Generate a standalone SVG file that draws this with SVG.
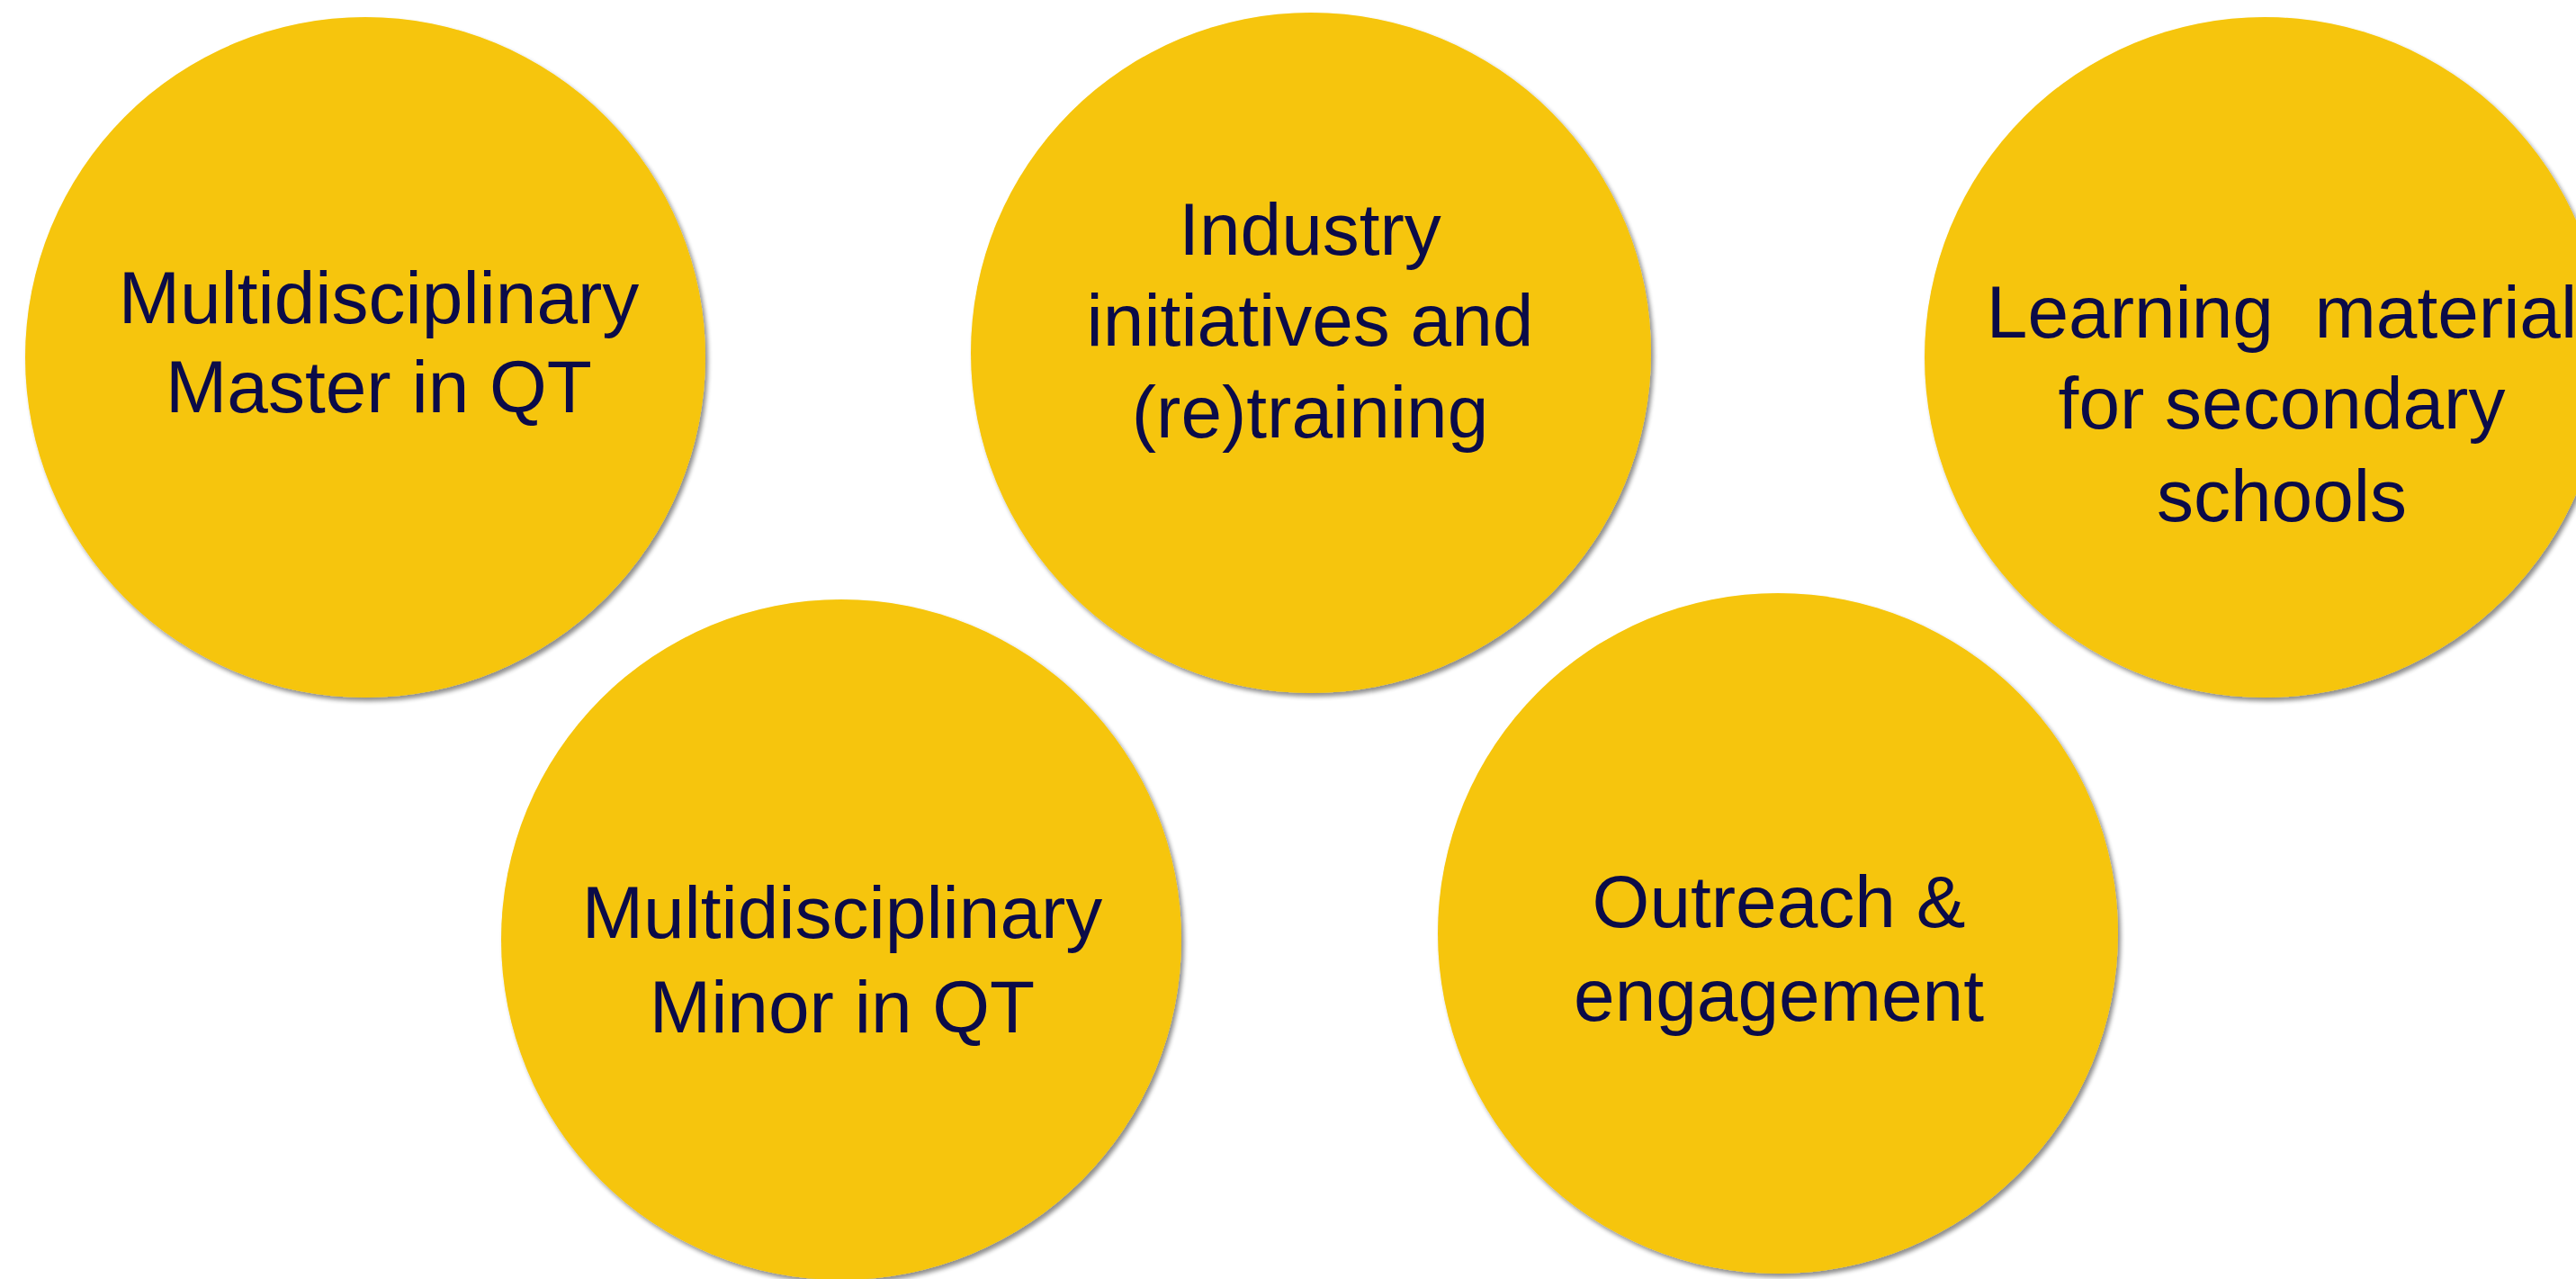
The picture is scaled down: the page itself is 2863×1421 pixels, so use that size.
<svg xmlns="http://www.w3.org/2000/svg" width="2863" height="1421" viewBox="0 0 2863 1421">
<defs>
<filter id="sh" x="-10%" y="-10%" width="120%" height="120%">
<feGaussianBlur in="SourceAlpha" stdDeviation="2.5"/>
<feOffset dx="3" dy="4" result="o"/>
<feComponentTransfer><feFuncA type="linear" slope="0.45"/></feComponentTransfer>
<feMerge><feMergeNode/><feMergeNode in="SourceGraphic"/></feMerge>
</filter>
</defs>
<style>
.c{fill:#F6C508;filter:url(#sh)}
.t{font-family:"Liberation Sans",Arial,sans-serif;font-size:82px;fill:#0B0B48;text-anchor:middle}
</style>
<rect width="2863" height="1421" fill="#FFFFFF"/>
<g id="connectors"/>
<g id="node-master">
<circle class="c" cx="406" cy="397" r="378"/>
<text class="t" x="421" y="359">Multidisciplinary</text>
<text class="t" x="421" y="458">Master in QT</text>
</g>
<g id="node-industry">
<circle class="c" cx="1457" cy="392" r="378"/>
<text class="t" x="1456" y="283">Industry</text>
<text class="t" x="1456" y="384">initiatives and</text>
<text class="t" x="1456" y="486">(re)training</text>
</g>
<g id="node-learning">
<circle class="c" cx="2517" cy="397" r="378"/>
<text class="t" x="2536" y="375" xml:space="preserve">Learning  material</text>
<text class="t" x="2536" y="476">for secondary</text>
<text class="t" x="2536" y="579">schools</text>
</g>
<g id="node-minor">
<circle class="c" cx="935" cy="1044" r="378"/>
<text class="t" x="936" y="1042">Multidisciplinary</text>
<text class="t" x="936" y="1147">Minor in QT</text>
</g>
<g id="node-outreach">
<circle class="c" cx="1976" cy="1037" r="378"/>
<text class="t" x="1977" y="1030">Outreach &amp;</text>
<text class="t" x="1977" y="1134">engagement</text>
</g>
</svg>
